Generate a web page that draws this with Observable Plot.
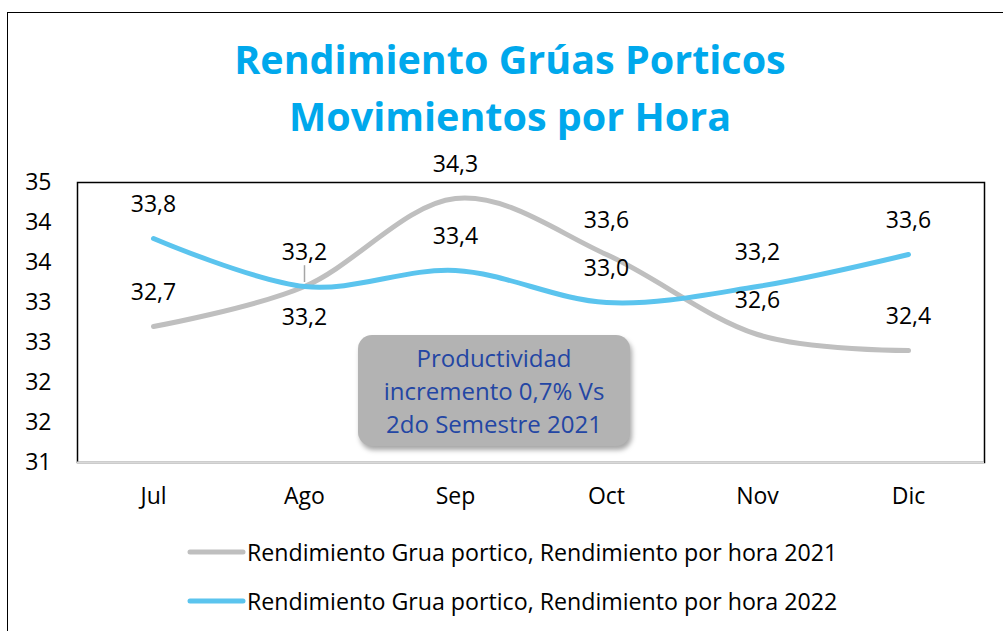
<!DOCTYPE html>
<html>
<head>
<meta charset="utf-8">
<script src="https://cdn.jsdelivr.net/npm/d3@7"></script>
<script src="https://cdn.jsdelivr.net/npm/@observablehq/plot@0.6"></script>
<style>
  html, body { margin: 0; padding: 0; background: #fff; }
  #wrap { position: relative; width: 1003px; height: 631px; overflow: hidden; background: #fff; font-family: "Open Sans", sans-serif; }
  #border { position: absolute; left: 7px; top: 12px; width: 1200px; height: 800px; border: 1.5px solid #000; box-sizing: border-box; }
  #title { position: absolute; left: 0; top: 31px; width: 1020px; text-align: center; font-family: "Open Sans", sans-serif; font-weight: 700; font-size: 39.5px; line-height: 57px; color: #00A8EC; }
  #chart { position: absolute; left: 0; top: 0; }
  #note { position: absolute; left: 358px; top: 335px; width: 272px; height: 111px; background: #b3b3b3; border-radius: 14px; box-shadow: 2px 4px 5px rgba(0,0,0,0.35); color: #2346a4; font-family: "Open Sans", sans-serif; font-size: 24px; line-height: 33px; text-align: center; display: flex; flex-direction: column; justify-content: center; }
  #legend { position: absolute; left: 186px; top: 527px; font-size: 23.2px; color: #000; }
  .item { display: flex; align-items: center; height: 49px; white-space: nowrap; }
  .item svg { margin-right: 1px; }
</style>
</head>
<body>
<div id="wrap">
  <div id="border"></div>
  <div id="title">Rendimiento Grúas Porticos<br>Movimientos por Hora</div>
  <div id="chart"></div>
  <div id="note">Productividad<br>incremento 0,7% Vs<br>2do Semestre 2021</div>
  <div id="legend"></div>
</div>
<script>
const months = ["Jul", "Ago", "Sep", "Oct", "Nov", "Dic"];
const values2021 = [32.7, 33.2, 34.3, 33.6, 32.6, 32.4];
const values2022 = [33.8, 33.2, 33.4, 33.0, 33.2, 33.6];
const seriesNames = [
  "Rendimiento Grua portico, Rendimiento por hora 2021",
  "Rendimiento Grua portico, Rendimiento por hora 2022"
];
const seriesColors = ["#bfbfbf", "#5bc4ee"];
const yTicks = [31, 31.5, 32, 32.5, 33, 33.5, 34, 34.5];
// label placement: gray series Ago label sits below its point
const below2021 = ["Ago"];

const rows = [];
months.forEach((m, i) => rows.push({month: m, value: values2021[i], series: seriesNames[0]}));
months.forEach((m, i) => rows.push({month: m, value: values2022[i], series: seriesNames[1]}));
const isBelow = d => d.series === seriesNames[0] && below2021.includes(d.month);
const fmt = v => v.toFixed(1).replace(".", ",");

const plot = Plot.plot({
  width: 1003,
  height: 520,
  marginTop: 182,
  marginBottom: 58,
  marginLeft: 77,
  marginRight: 19,
  style: {fontFamily: "'Open Sans', sans-serif", fontSize: "23px", color: "#000", background: "transparent"},
  x: {type: "point", domain: months, padding: 0.5, label: null},
  y: {domain: [31, 34.5], label: null},
  color: {domain: seriesNames, range: seriesColors},
  marks: [
    Plot.frame({stroke: "#000", strokeWidth: 1.5}),
    Plot.ruleY([31], {stroke: "#d9d9d9", strokeWidth: 2}),
    Plot.axisY({ticks: yTicks, tickSize: 0, tickPadding: 26, tickFormat: d => Math.round(d), fontSize: 23, fill: "#000"}),
    Plot.axisX({tickSize: 0, tickPadding: 25, fontSize: 23, fill: "#000"}),
    Plot.ruleX(rows.filter(isBelow), {x: "month", y1: d => d.value + 0.05, y2: d => d.value + 0.26, stroke: "#a6a6a6", strokeWidth: 1.5}),
    Plot.line(rows, {x: "month", y: "value", z: "series", stroke: "series", strokeWidth: 5, strokeLinecap: "round", curve: "cardinal"}),
    Plot.text(rows.filter(d => !isBelow(d)), {x: "month", y: "value", text: d => fmt(d.value), dy: -34, fontSize: 23, fill: "#000"}),
    Plot.text(rows.filter(isBelow), {x: "month", y: "value", text: d => fmt(d.value), dy: 31, fontSize: 23, fill: "#000"})
  ]
});
document.getElementById("chart").appendChild(plot);

const legend = d3.select("#legend");
seriesNames.forEach((name, i) => {
  const item = legend.append("div").attr("class", "item");
  const svg = item.append("svg").attr("width", 60).attr("height", 10);
  svg.append("line").attr("x1", 4).attr("x2", 57).attr("y1", 5).attr("y2", 5)
    .attr("stroke", seriesColors[i]).attr("stroke-width", 5).attr("stroke-linecap", "round");
  item.append("span").text(name);
});
</script>
</body>
</html>
